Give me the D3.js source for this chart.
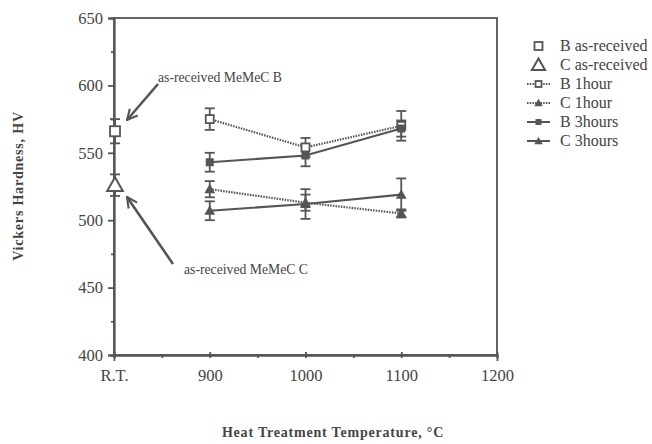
<!DOCTYPE html>
<html><head><meta charset="utf-8">
<script src="https://cdn.jsdelivr.net/npm/d3@7"></script>
<style>body{margin:0;background:#fff}svg{display:block}</style>
</head><body>
<svg id="c" width="652" height="444"></svg>
<script>
// ---- data ----
const temps = [900, 1000, 1100];
const xTickValues = [800, 900, 1000, 1100, 1200];
const xTickLabels = ["R.T.", "900", "1000", "1100", "1200"];
const yTickValues = [400, 450, 500, 550, 600, 650];
const asReceivedB = {value: 566, err: 9};
const asReceivedC = {value: 526, err: 8};
const b1hour = [575, 554, 570];
const b1hourErr = [8, 7, 11];
const c1hour = [523, 513, 505];
const c1hourErr = [6, 6, 3];
const b3hours = [543, 548, 568];
const b3hoursErr = [7, 8, 6];
const c3hours = [507, 512, 519];
const c3hoursErr = [7, 11, 12];
const legendLabels = ["B as-received", "C as-received", "B 1hour", "C 1hour", "B 3hours", "C 3hours"];

const svg = d3.select("#c");
const col = "#555";
const x = d3.scaleLinear().domain([800, 1200]).range([114, 497]);
const y = d3.scaleLinear().domain([400, 650]).range([355, 18]);
const font = "Liberation Serif, Times New Roman, serif";

// frame
svg.append("rect").attr("x", x(800)).attr("y", y(650)).attr("width", x(1200) - x(800)).attr("height", y(400) - y(650))
  .attr("fill", "none").attr("stroke", col).attr("stroke-width", 1.8);

// axes
const xAxis = d3.axisBottom(x).tickValues(xTickValues).tickFormat((d, i) => xTickLabels[i]).tickSize(6).tickPadding(8);
const gx = svg.append("g").attr("transform", `translate(0,${y(400)})`).call(xAxis);
const gxm = svg.append("g").attr("transform", `translate(0,${y(400)})`).call(d3.axisBottom(x).tickValues([850, 950, 1050, 1150]).tickFormat("").tickSize(3));
const yAxis = d3.axisLeft(y).tickValues(yTickValues).tickSize(6).tickPadding(5);
const gy = svg.append("g").attr("transform", `translate(${x(800)},0)`).call(yAxis);
const gym = svg.append("g").attr("transform", `translate(${x(800)},0)`).call(d3.axisLeft(y).tickValues([425, 475, 525, 575, 625]).tickFormat("").tickSize(3));
[gx, gxm, gy, gym].forEach(g => {
  g.select(".domain").attr("stroke", col).attr("stroke-width", 1.8);
  g.selectAll(".tick line").attr("stroke", col).attr("stroke-width", 1.8);
  g.selectAll("text").attr("font-family", font).attr("font-size", 16.5).attr("fill", "#444");
});
gx.selectAll(".tick line").attr("transform", "translate(0,-3)");

// axis titles
svg.append("text").attr("x", 333).attr("y", 437).attr("text-anchor", "middle").attr("font-family", font)
  .attr("font-weight", "bold").attr("font-size", 14).attr("fill", "#444").attr("letter-spacing", 0.8).text("Heat Treatment Temperature, °C");
svg.append("text").attr("transform", "translate(23,186) rotate(-90)").attr("text-anchor", "middle").attr("font-family", font)
  .attr("font-weight", "bold").attr("font-size", 14).attr("fill", "#444").attr("letter-spacing", 0.8).text("Vickers Hardness, HV");

// markers
function marker(g, type, cx, cy, s) {
  if (type === "osq") g.append("rect").attr("x", cx - s/2).attr("y", cy - s/2).attr("width", s).attr("height", s).attr("fill", "#fff").attr("stroke", col).attr("stroke-width", 1.8);
  else if (type === "fsq") g.append("rect").attr("x", cx - s/2).attr("y", cy - s/2).attr("width", s).attr("height", s).attr("fill", col);
  else if (type === "otri") g.append("path").attr("d", `M${cx},${cy - s*0.6}L${cx + s*0.6},${cy + s*0.45}L${cx - s*0.6},${cy + s*0.45}Z`).attr("fill", "#fff").attr("stroke", col).attr("stroke-width", 2);
  else if (type === "ftri") g.append("path").attr("d", `M${cx},${cy - s*0.6}L${cx + s*0.6},${cy + s*0.45}L${cx - s*0.6},${cy + s*0.45}Z`).attr("fill", col);
}
function errbar(g, cx, v, e) {
  const w = 5;
  g.append("line").attr("x1", cx).attr("x2", cx).attr("y1", y(v + e)).attr("y2", y(v - e)).attr("stroke", col).attr("stroke-width", 1.8);
  [v + e, v - e].forEach(t => g.append("line").attr("x1", cx - w).attr("x2", cx + w).attr("y1", y(t)).attr("y2", y(t)).attr("stroke", col).attr("stroke-width", 1.8));
}

const series = [
  {vals: b1hour, err: b1hourErr, m: "osq", dash: "1.5,1.2", s: 8},
  {vals: c1hour, err: c1hourErr, m: "ftri", dash: "1.5,1.2", s: 9},
  {vals: b3hours, err: b3hoursErr, m: "fsq", dash: null, s: 8},
  {vals: c3hours, err: c3hoursErr, m: "ftri", dash: null, s: 9}
];
const line = d3.line().x((d, i) => x(temps[i])).y(d => y(d));
const gd = svg.append("g");
series.forEach(sr => {
  gd.append("path").attr("d", line(sr.vals)).attr("fill", "none").attr("stroke", col).attr("stroke-width", 2.2)
    .attr("stroke-dasharray", sr.dash);
});
series.forEach(sr => {
  sr.vals.forEach((v, i) => { errbar(gd, x(temps[i]), v, sr.err[i]); });
});
series.forEach(sr => {
  sr.vals.forEach((v, i) => marker(gd, sr.m, x(temps[i]), y(v), sr.s));
});
// as-received
errbar(gd, x(800) + 1, asReceivedB.value, asReceivedB.err);
errbar(gd, x(800) + 1, asReceivedC.value, asReceivedC.err);
marker(gd, "osq", x(800) + 1, y(asReceivedB.value), 10);
marker(gd, "otri", x(800) + 1, y(asReceivedC.value), 13);

// annotations
svg.append("defs").append("marker").attr("id", "ah").attr("viewBox", "0 0 10 10").attr("refX", 9).attr("refY", 5)
  .attr("markerWidth", 5).attr("markerHeight", 5).attr("orient", "auto")
  .append("path").attr("d", "M1,1L9,5L1,9").attr("fill", "none").attr("stroke", col).attr("stroke-width", 1.6);
svg.append("line").attr("x1", 158).attr("y1", 84).attr("x2", 127).attr("y2", 120).attr("stroke", col).attr("stroke-width", 2.6).attr("marker-end", "url(#ah)");
svg.append("line").attr("x1", 173).attr("y1", 264).attr("x2", 127).attr("y2", 197).attr("stroke", col).attr("stroke-width", 2.6).attr("marker-end", "url(#ah)");
svg.append("text").attr("x", 158).attr("y", 82).attr("font-family", font).attr("font-size", 13.7).attr("fill", "#444").text("as-received MeMeC B");
svg.append("text").attr("x", 184).attr("y", 274).attr("font-family", font).attr("font-size", 13.7).attr("fill", "#444").text("as-received MeMeC C");

// legend
const legY = [46, 65, 84, 103, 122, 141];
const legSpec = [
  {m: "osq", line: false, s: 8}, {m: "otri", line: false, s: 11},
  {m: "osq", line: true, dash: "1.5,1.2", s: 6}, {m: "ftri", line: true, dash: "1.5,1.2", s: 7},
  {m: "fsq", line: true, dash: null, s: 6}, {m: "ftri", line: true, dash: null, s: 7}
];
const gl = svg.append("g");
legSpec.forEach((sp, i) => {
  if (sp.line) gl.append("line").attr("x1", 527).attr("x2", 550).attr("y1", legY[i]).attr("y2", legY[i]).attr("stroke", col).attr("stroke-width", 2).attr("stroke-dasharray", sp.dash);
  marker(gl, sp.m, 538.5, legY[i], sp.s);
  gl.append("text").attr("x", 560).attr("y", legY[i] + 5).attr("font-family", font).attr("font-size", 16).attr("fill", "#444").text(legendLabels[i]);
});
</script>
</body></html>
